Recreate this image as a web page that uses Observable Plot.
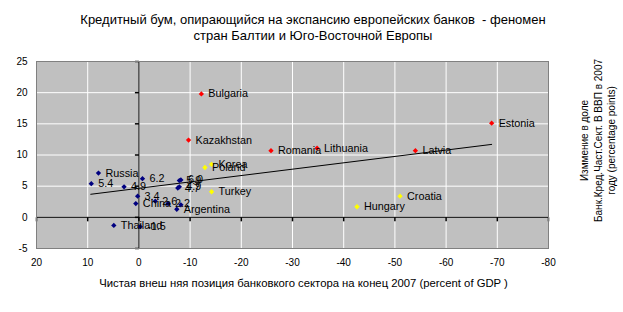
<!DOCTYPE html>
<html>
<head>
<meta charset="utf-8">
<script src="https://cdn.jsdelivr.net/npm/d3@7"></script>
<script src="https://cdn.jsdelivr.net/npm/@observablehq/plot@0.6"></script>
<style>
  body { margin: 0; background: #fff; font-family: "Liberation Sans", Arial, sans-serif; }
  #title {
    width: 623px; height: 45px; box-sizing: border-box;
    padding-top: 12px; padding-left: 3px;
    text-align: center; font-size: 13px; line-height: 16px; color: #000;
  }
</style>
</head>
<body>
<div id="title">Кредитный бум, опирающийся на экспансию европейских банков &nbsp;- феномен<br>стран Балтии и Юго-Восточной Европы</div>
<div id="chart"></div>
<script>
// Baltic and South-East European countries (red)
const redNames = ["Bulgaria", "Kazakhstan", "Romania", "Lithuania", "Latvia", "Estonia"];
const redX = [-12.2, -9.7, -25.8, -34.8, -54.0, -68.9];
const redY = [19.8, 12.4, 10.7, 11.1, 10.7, 15.1];

// Central European and other emerging economies (yellow)
const yellowNames = ["Korea", "Poland", "Turkey", "Hungary", "Croatia"];
const yellowX = [-14.2, -12.9, -14.2, -42.6, -51.0];
const yellowY = [8.5, 8.0, 4.1, 1.7, 3.4];

// Other emerging markets (blue); null name = labelled with its value, "" = no label
const blueNames = ["Russia", null, null, null, null, "China", null, null, "", null, null, null, null, "Argentina", "Thailand", null];
const blueX = [7.9, 9.3, 2.9, -0.7, 0.25, 0.6, -3.2, -5.7, -8.2, -8.2, -7.9, -7.6, -7.9, -7.4, 4.9, -0.25];
const blueY = [7.1, 5.4, 4.9, 6.2, 3.4, 2.2, 2.6, 2.2, 2.0, 6.0, 5.9, 4.7, 4.9, 1.3, -1.3, -1.5];

// Linear trend endpoints
const trendX = [9.4, -68.9];
const trendY = [3.7, 11.7];

// Axis ticks and titles
const xTicks = [20, 10, 0, -10, -20, -30, -40, -50, -60, -70, -80];
const yTicks = [-5, 0, 5, 10, 15, 20, 25];
const xTitle = "Чистая внеш няя позиция банковкого сектора на конец 2007 (percent of GDP )";
const yTitle = "Изммение в доле\nБанк.Кред.Част.Сект. В ВВП в 2007\nгоду (percentage points)";

const colors = {red: "#ff0000", yellow: "#ffff00", blue: "#000080"};

const points = [
  ...redNames.map((n, i) => ({name: n, x: redX[i], y: redY[i], group: "red"})),
  ...yellowNames.map((n, i) => ({name: n, x: yellowX[i], y: yellowY[i], group: "yellow"})),
  ...blueNames.map((n, i) => ({name: n, x: blueX[i], y: blueY[i], group: "blue"}))
];
const labelled = points.filter(d => d.name !== "");
const trend = trendX.map((x, i) => ({x, y: trendY[i]}));

// Small tick glyphs hanging off the zero axes
const tickDown = {draw(ctx) { ctx.moveTo(0, 0); ctx.lineTo(0, 4); }};
const tickLeft = {draw(ctx) { ctx.moveTo(0, 0); ctx.lineTo(-4, 0); }};

const chart = Plot.plot({
  width: 623,
  height: 267,
  marginTop: 16,
  marginBottom: 64,
  marginLeft: 36,
  marginRight: 75,
  style: {fontFamily: "'Liberation Sans', Arial, sans-serif", fontSize: "10px", background: "white", color: "black"},
  x: {domain: [20, -80]},
  y: {domain: [-5, 25]},
  marks: [
    Plot.frame({fill: "#c0c0c0"}),
    Plot.gridX(xTicks, {stroke: "white", strokeOpacity: 1}),
    Plot.gridY(yTicks, {stroke: "white", strokeOpacity: 1}),
    Plot.ruleY([0], {stroke: "black"}),
    Plot.ruleX([0], {stroke: "black"}),
    Plot.dot(xTicks, {x: d => d, y: () => 0, symbol: tickDown, stroke: "black", fill: "none"}),
    Plot.dot(yTicks, {x: () => 0, y: d => d, symbol: tickLeft, stroke: "black", fill: "none"}),
    Plot.frame({stroke: "#808080"}),
    Plot.axisX(xTicks, {tickSize: 0, tickPadding: 10, label: null, tickFormat: d => String(d), fontSize: 10}),
    Plot.axisY(yTicks, {tickSize: 0, tickPadding: 9, label: null, tickFormat: d => String(d), fontSize: 10}),
    Plot.line(trend, {x: "x", y: "y", stroke: "black", strokeWidth: 1}),
    Plot.dot(points, {x: "x", y: "y", symbol: "diamond2", r: 2.4, fill: d => colors[d.group], stroke: "none"}),
    Plot.text(labelled, {
      x: "x", y: "y",
      text: d => d.name ?? d.y.toFixed(1),
      textAnchor: "start", dx: 7, fontSize: 10.8, fill: "black"
    }),
    Plot.text([xTitle], {text: d => d, frameAnchor: "bottom", dx: 11, dy: 35, textAnchor: "middle", lineAnchor: "middle", fontSize: 11.3}),
    Plot.text([yTitle], {text: d => d, frameAnchor: "right", rotate: -90, dx: 49, dy: -14.5, textAnchor: "middle", lineAnchor: "middle", lineHeight: 1.35, fontSize: 10})
  ]
});

document.getElementById("chart").appendChild(chart);
</script>
</body>
</html>
